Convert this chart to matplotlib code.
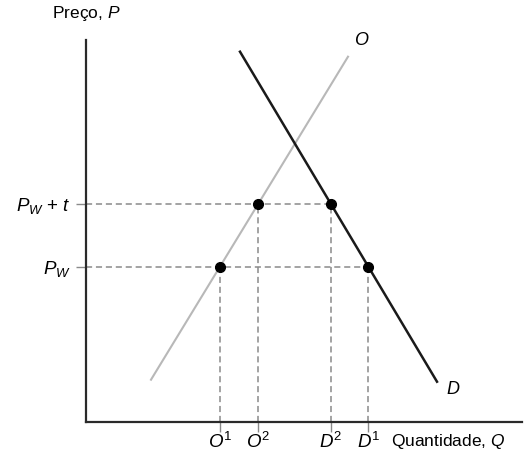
import matplotlib
matplotlib.use("Agg")
import matplotlib.pyplot as plt

plt.rcParams['font.family'] = ['Liberation Sans', 'DejaVu Sans']
plt.rcParams['mathtext.fontset'] = 'custom'
plt.rcParams['mathtext.rm'] = 'Liberation Sans'
plt.rcParams['mathtext.it'] = 'Liberation Sans:italic'

# supply (O) and demand (D) lines, given by their end points (Q, P)
supply_q = [65, 262]
supply_p = [42, 365]
demand_q = [154, 351]
demand_p = [370, 40]

# world price and world price plus tariff
price_levels = [155, 218]
price_labels = [r'$P_W$', r'$P_W$ + $t$']


def q_on_line(qs, ps, p):
    # quantity on a straight line at price p
    return qs[0] + (p - ps[0]) * (qs[1] - qs[0]) / (ps[1] - ps[0])


o1 = q_on_line(supply_q, supply_p, price_levels[0])
o2 = q_on_line(supply_q, supply_p, price_levels[1])
d2 = q_on_line(demand_q, demand_p, price_levels[1])
d1 = q_on_line(demand_q, demand_p, price_levels[0])
quantities = [o1, o2, d2, d1]
quantity_labels = [r'$O^{\mathrm{1}}$', r'$O^{\mathrm{2}}$', r'$D^{\mathrm{2}}$', r'$D^{\mathrm{1}}$']

fig = plt.figure(figsize=(5.25, 4.54), dpi=100)
ax = fig.add_axes([86 / 525, 32.3 / 454, 435.7 / 525, 381.7 / 454])
ax.set_xlim(0, 435.7)
ax.set_ylim(0, 381.7)

dash = dict(color='#8a8a8a', lw=1.1, dashes=(4, 2.5), zorder=1)
# horizontal guides from the axis to the demand curve
ax.plot([0, d1], [price_levels[0]] * 2, **dash)
ax.plot([0, d2], [price_levels[1]] * 2, **dash)
# vertical guides down to the axis
ax.plot([o1, o1], [0, price_levels[0]], **dash)
ax.plot([o2, o2], [0, price_levels[1]], **dash)
ax.plot([d2, d2], [0, price_levels[1]], **dash)
ax.plot([d1, d1], [0, price_levels[0]], **dash)

ax.plot(supply_q, supply_p, color='#b8b8b8', lw=1.5, zorder=2)
ax.plot(demand_q, demand_p, color='#1a1a1a', lw=1.8, zorder=2)

ax.plot([o1, o2, d2, d1],
        [price_levels[0], price_levels[1], price_levels[1], price_levels[0]],
        'o', color='black', ms=7, zorder=3)

ax.text(supply_q[1] + 6, supply_p[1] + 8, r'$O$', fontsize=13, ha='left', va='bottom')
ax.text(demand_q[1] + 9, demand_p[1] - 8, r'$D$', fontsize=13, ha='left', va='center')

for side in ['top', 'right']:
    ax.spines[side].set_visible(False)
for side in ['left', 'bottom']:
    ax.spines[side].set_linewidth(1.6)
    ax.spines[side].set_color('#2a2a2a')

ax.set_xticks(quantities)
ax.set_xticklabels(quantity_labels, fontsize=13.5)
ax.set_yticks(price_levels)
ax.set_yticklabels(price_labels, fontsize=13.5)
ax.tick_params(axis='both', length=7, width=1, color='#8a8a8a')
ax.tick_params(axis='x', pad=0)
ax.tick_params(axis='y', pad=4)

ax.text(0, 1.045, 'Preço, ' + r'$P$', transform=ax.transAxes,
        fontsize=12.5, ha='center', va='bottom')
ax.text(305, -10, 'Quantidade, ' + r'$Q$', fontsize=12.5, ha='left', va='top')

fig.savefig('out.png', dpi=100)
